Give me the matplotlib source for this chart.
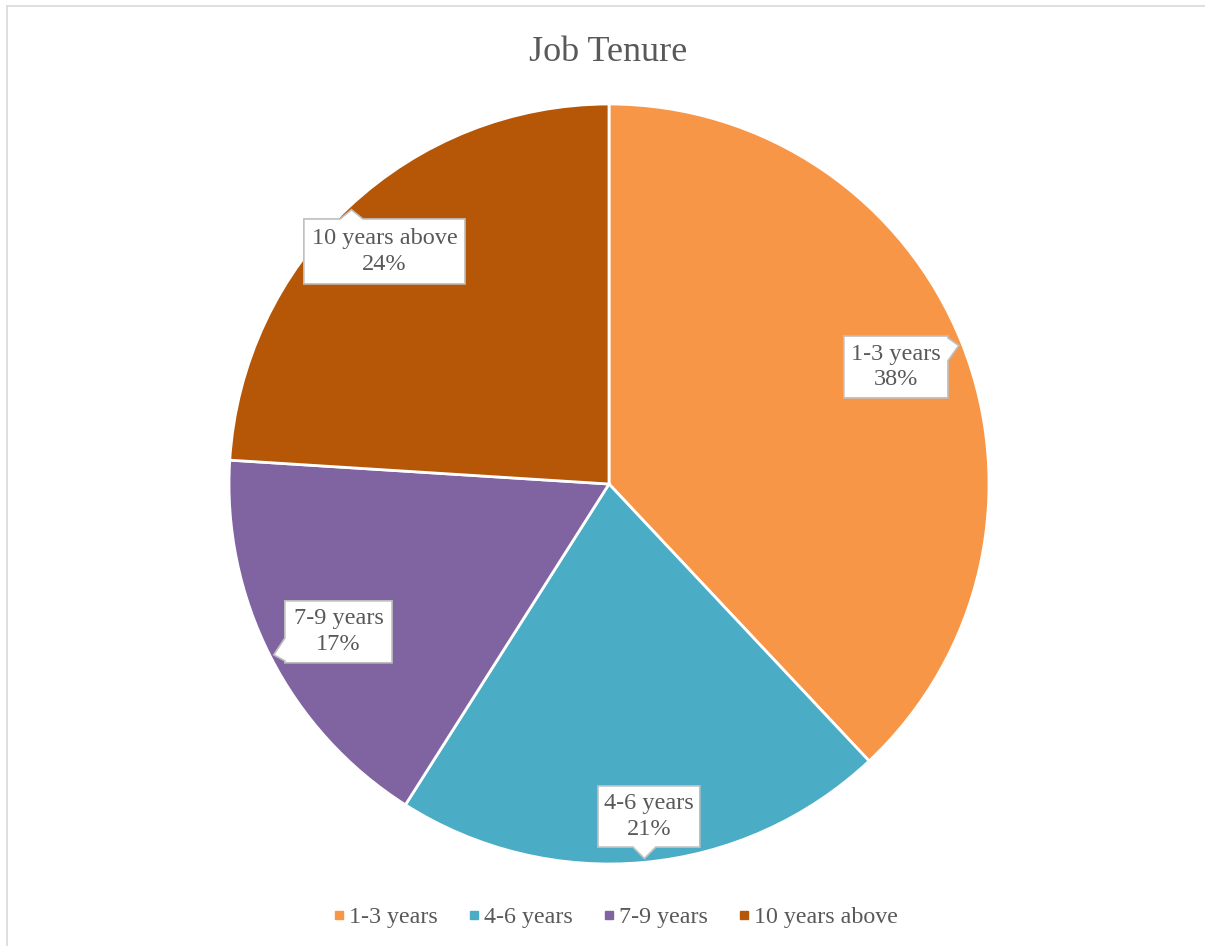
"""
Job tenure pie chart with callout labels
"""
import matplotlib
matplotlib.use('Agg')
import matplotlib.pyplot as plt
from matplotlib.lines import Line2D
from matplotlib.patches import Polygon
import numpy as np

categories = ['1-3 years', '4-6 years', '7-9 years', '10 years above']
shares = [38, 21, 17, 24]
colors = ['#F79646', '#4BACC6', '#8064A2', '#B65708']

TEXT = '#595959'
FONT = 'Liberation Serif'

# callout box centres and sizes (pie radius = 1)
box_centres = [(0.755, 0.308), (0.105, -0.875), (-0.712, -0.389), (-0.591, 0.612)]
box_sizes = [(0.274, 0.163), (0.268, 0.161), (0.282, 0.163), (0.424, 0.171)]


def callout(ax, centre, size, tip, text):
    cx, cy = centre
    w, h = size
    x0, x1 = cx - w / 2, cx + w / 2
    y0, y1 = cy - h / 2, cy + h / 2
    tx, ty = tip
    hw = 0.03
    # which side of the box the pointer comes out of
    ex = (abs(tx - cx) - w / 2) / w
    ey = (abs(ty - cy) - h / 2) / h
    if ex > ey:
        b = np.clip(ty, y0 + hw + 0.005, y1 - hw - 0.005)
        if tx > cx:
            pts = [(x0, y0), (x1, y0), (x1, b - hw), (tx, ty), (x1, b + hw), (x1, y1), (x0, y1)]
        else:
            pts = [(x0, y0), (x1, y0), (x1, y1), (x0, y1), (x0, b + hw), (tx, ty), (x0, b - hw)]
    else:
        b = np.clip(tx, x0 + hw + 0.005, x1 - hw - 0.005)
        if ty > cy:
            pts = [(x0, y0), (x1, y0), (x1, y1), (b + hw, y1), (tx, ty), (b - hw, y1), (x0, y1)]
        else:
            pts = [(x0, y0), (b - hw, y0), (tx, ty), (b + hw, y0), (x1, y0), (x1, y1), (x0, y1)]
    ax.add_patch(Polygon(pts, closed=True, facecolor='white', edgecolor='#BFBFBF',
                         linewidth=1.2, zorder=5))
    ax.text(cx, cy, text, ha='center', va='center', fontsize=17.5, color=TEXT,
            family=FONT, linespacing=1.3, zorder=6)


fig = plt.figure(figsize=(12.05, 9.46), dpi=100)
W, H = 1205, 946
cx_px, cy_px, r_px = 609, 484, 380
ax = fig.add_axes([(cx_px - r_px) / W, (H - cy_px - r_px) / H, 2 * r_px / W, 2 * r_px / H])

wedges, _ = ax.pie(shares, colors=colors, startangle=90, counterclock=False, radius=1,
                   wedgeprops=dict(edgecolor='white', linewidth=2.0))
ax.set_xlim(-1, 1)
ax.set_ylim(-1, 1)
ax.set_aspect('equal')
ax.axis('off')

total = sum(shares)
for wdg, cat, val, c, s in zip(wedges, categories, shares, box_centres, box_sizes):
    mid = np.deg2rad((wdg.theta1 + wdg.theta2) / 2)
    tip = (0.99 * np.cos(mid), 0.99 * np.sin(mid))
    callout(ax, c, s, tip, f'{cat}\n{val / total * 100:.0f}%')

fig.text(608.5 / W, 1 - 61 / H, 'Job Tenure', ha='center', va='baseline',
         fontsize=26, color=TEXT, family=FONT)

handles = [Line2D([], [], marker='s', linestyle='', color=c, markersize=6) for c in colors]
fig.legend(handles, categories, loc='center', bbox_to_anchor=(0.51, 1 - 917 / H), ncol=4,
           frameon=False, handlelength=0.6, handletextpad=0.12, columnspacing=1.2,
           prop=dict(family=FONT, size=17.3), labelcolor=TEXT)

# chart frame edges
fig.add_artist(Line2D([6.5 / W, 1], [1 - 6.5 / H, 1 - 6.5 / H], color='#D9D9D9', lw=1.2))
fig.add_artist(Line2D([6.5 / W, 6.5 / W], [0, 1 - 6.5 / H], color='#D9D9D9', lw=1.2))

fig.savefig('out.png', dpi=100)
